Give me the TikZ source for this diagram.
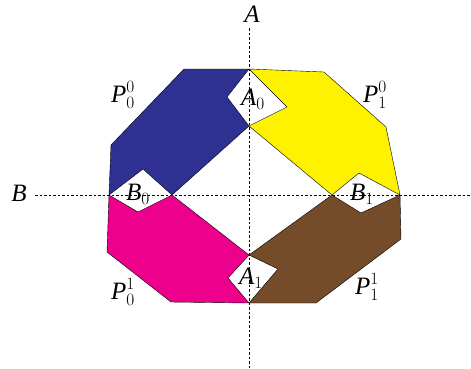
\documentclass[tikz,border=0pt]{standalone}
\usepackage{amsmath,amssymb}
\usepackage{fontspec}
\setmainfont{Liberation Serif}
\usepackage{tikz}
\usetikzlibrary{positioning}
\usepackage{xcolor}

\definecolor{pblue}{RGB}{46,49,146}
\definecolor{pyellow}{RGB}{255,242,0}
\definecolor{ppink}{RGB}{236,0,140}
\definecolor{pbrown}{RGB}{117,76,41}

\begin{document}
\begin{tikzpicture}[x=1pt,y=-1pt,
  piece/.style={draw=black,line width=0.4pt,line join=round},
  axis/.style={dash pattern=on 2.5pt off 2pt,line width=0.5pt},
  lbl/.style={inner sep=0pt,font=\fontsize{25}{30}\selectfont}]
\useasboundingbox (0,0) rectangle (471,368);
% axes
\coordinate (atop) at (249,28);
\coordinate (abot) at (249,368);
\coordinate (bleft) at (35,195);
\coordinate (bright) at (471,195);
\draw[axis] (atop) -- (abot);
\draw[axis] (bleft) -- (bright);
% inner points
\coordinate (top) at (249,69);
\coordinate (bot) at (249,303);
\coordinate (ctop) at (249,126);
\coordinate (cbot) at (249,255);
\coordinate (left) at (109,195);
\coordinate (right) at (400,195);
\coordinate (cleft) at (172,195);
\coordinate (cright) at (332,195);
\coordinate (a0l) at (227,97);
\coordinate (a0r) at (287,107);
\coordinate (a1l) at (228,278);
\coordinate (a1r) at (278,269);
\coordinate (b0t) at (143,169);
\coordinate (b0b) at (138,212);
\coordinate (b1t) at (359,173);
\coordinate (b1b) at (361,213);
% pieces
\filldraw[piece,fill=pblue] (top) -- (a0l) -- (ctop) -- (cleft) -- (b0t) -- (left)
  -- (111,145) -- (184,69) -- cycle;
\filldraw[piece,fill=pyellow] (top) -- (324,72) -- (386,127) -- (right) -- (b1t)
  -- (cright) -- (ctop) -- (a0r) -- cycle;
\filldraw[piece,fill=ppink] (left) -- (b0b) -- (cleft) -- (cbot) -- (a1l) -- (bot)
  -- (171,302) -- (107,252) -- cycle;
\filldraw[piece,fill=pbrown] (cright) -- (b1b) -- (right) -- (401,239) -- (316,303)
  -- (bot) -- (a1r) -- (cbot) -- cycle;
% labels
\node[lbl] (A) at (252,14) {$\mathit{A}$};
\node[lbl] (B) at (19,193) {$\mathit{B}$};
\node[lbl] (A0) at (253,99) {$\mathit{A}_0$};
\node[lbl] (A1) at (251,278) {$\mathit{A}_1$};
\node[lbl] (B0) at (138,194) {$\mathit{B}_0$};
\node[lbl] (B1) at (362,194) {$\mathit{B}_1$};
\node[lbl] (P00) at (123,95) {$\mathit{P}_0^0$};
\node[lbl] (P10) at (375,95) {$\mathit{P}_1^0$};
\node[lbl] (P01) at (123,292) {$\mathit{P}_0^1$};
\node[lbl] (P11) at (367,287) {$\mathit{P}_1^1$};
\end{tikzpicture}
\end{document}
